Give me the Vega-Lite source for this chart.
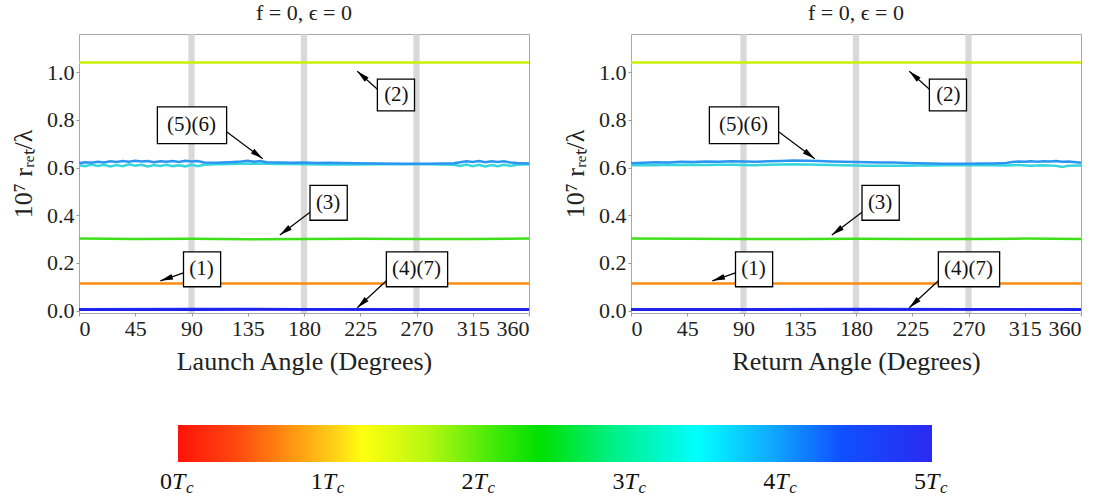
{
  "$schema": "https://vega.github.io/schema/vega-lite/v6.json",
  "background": "white",
  "padding": {"left": 10, "top": 1, "right": 5, "bottom": 0},
  "config": {
    "font": "Liberation Serif",
    "view": {"stroke": "#a8a8a8", "strokeWidth": 1},
    "axis": {"labelFont": "Liberation Serif", "labelFontSize": 22, "labelColor": "#222", "titleFont": "Liberation Serif", "titleFontSize": 26, "titleFontWeight": "normal", "titleColor": "#222", "domain": false, "grid": false, "tickColor": "#999", "tickSize": 3, "labelPadding": 2},
    "title": {"font": "Liberation Serif", "fontSize": 22, "fontWeight": "normal", "color": "#222"}
  },
  "datasets": {
    "bands": [{"a": 87.5, "b": 92.5}, {"a": 177.5, "b": 182.5}, {"a": 267.5, "b": 272.5}],
    "ann": [
      {"lab": "(2)", "tx": 253.9, "ty": 0.904, "x0": 238.7, "x1": 268.4, "y0": 0.8375, "y1": 0.971, "ax": 240.3, "ay": 0.921, "bx": 222.6, "by": 1.004},
      {"lab": "(5)(6)", "tx": 90, "ty": 0.779, "x0": 62.7, "x1": 118.1, "y0": 0.70, "y1": 0.854, "ax": 118.1, "ay": 0.75, "bx": 147, "by": 0.637},
      {"lab": "(3)", "tx": 199.3, "ty": 0.452, "x0": 184.8, "x1": 214.6, "y0": 0.379, "y1": 0.525, "ax": 184.8, "ay": 0.4125, "bx": 160.7, "by": 0.317},
      {"lab": "(1)", "tx": 98, "ty": 0.173, "x0": 83.6, "x1": 113.3, "y0": 0.10, "y1": 0.246, "ax": 83.6, "ay": 0.158, "bx": 65.1, "by": 0.125},
      {"lab": "(4)(7)", "tx": 270, "ty": 0.173, "x0": 245.9, "x1": 294.9, "y0": 0.10, "y1": 0.246, "ax": 245.9, "ay": 0.125, "bx": 222.6, "by": 0.012}
    ],
    "lines": [
      {"panel": "a", "s": "2", "x": 0, "y": 1.040}, {"panel": "a", "s": "2", "x": 90, "y": 1.041}, {"panel": "a", "s": "2", "x": 180, "y": 1.040}, {"panel": "a", "s": "2", "x": 270, "y": 1.040}, {"panel": "a", "s": "2", "x": 360, "y": 1.041},
      {"panel": "a", "s": "3", "x": 0, "y": 0.302}, {"panel": "a", "s": "3", "x": 45, "y": 0.300}, {"panel": "a", "s": "3", "x": 90, "y": 0.301}, {"panel": "a", "s": "3", "x": 135, "y": 0.299}, {"panel": "a", "s": "3", "x": 180, "y": 0.300}, {"panel": "a", "s": "3", "x": 225, "y": 0.301}, {"panel": "a", "s": "3", "x": 270, "y": 0.300}, {"panel": "a", "s": "3", "x": 315, "y": 0.300}, {"panel": "a", "s": "3", "x": 360, "y": 0.302},
      {"panel": "a", "s": "1", "x": 0, "y": 0.114}, {"panel": "a", "s": "1", "x": 90, "y": 0.114}, {"panel": "a", "s": "1", "x": 180, "y": 0.114}, {"panel": "a", "s": "1", "x": 270, "y": 0.114}, {"panel": "a", "s": "1", "x": 360, "y": 0.114},
      {"panel": "a", "s": "4", "x": 0, "y": 0.006}, {"panel": "a", "s": "4", "x": 90, "y": 0.007}, {"panel": "a", "s": "4", "x": 180, "y": 0.006}, {"panel": "a", "s": "4", "x": 270, "y": 0.006}, {"panel": "a", "s": "4", "x": 360, "y": 0.006},
      {"panel": "a", "s": "7", "x": 0, "y": 0.004}, {"panel": "a", "s": "7", "x": 90, "y": 0.004}, {"panel": "a", "s": "7", "x": 180, "y": 0.005}, {"panel": "a", "s": "7", "x": 270, "y": 0.004}, {"panel": "a", "s": "7", "x": 360, "y": 0.004},
      {"panel": "a", "s": "6", "x": 0, "y": 0.610}, {"panel": "a", "s": "6", "x": 5, "y": 0.606}, {"panel": "a", "s": "6", "x": 10, "y": 0.613}, {"panel": "a", "s": "6", "x": 15, "y": 0.607}, {"panel": "a", "s": "6", "x": 20, "y": 0.612}, {"panel": "a", "s": "6", "x": 25, "y": 0.605}, {"panel": "a", "s": "6", "x": 30, "y": 0.611}, {"panel": "a", "s": "6", "x": 35, "y": 0.606}, {"panel": "a", "s": "6", "x": 40, "y": 0.614}, {"panel": "a", "s": "6", "x": 45, "y": 0.608}, {"panel": "a", "s": "6", "x": 50, "y": 0.612}, {"panel": "a", "s": "6", "x": 55, "y": 0.605}, {"panel": "a", "s": "6", "x": 60, "y": 0.611}, {"panel": "a", "s": "6", "x": 65, "y": 0.607}, {"panel": "a", "s": "6", "x": 70, "y": 0.612}, {"panel": "a", "s": "6", "x": 75, "y": 0.606}, {"panel": "a", "s": "6", "x": 80, "y": 0.610}, {"panel": "a", "s": "6", "x": 85, "y": 0.605}, {"panel": "a", "s": "6", "x": 90, "y": 0.612}, {"panel": "a", "s": "6", "x": 95, "y": 0.606}, {"panel": "a", "s": "6", "x": 100, "y": 0.612}, {"panel": "a", "s": "6", "x": 110, "y": 0.614}, {"panel": "a", "s": "6", "x": 120, "y": 0.615}, {"panel": "a", "s": "6", "x": 130, "y": 0.616}, {"panel": "a", "s": "6", "x": 140, "y": 0.616}, {"panel": "a", "s": "6", "x": 150, "y": 0.616}, {"panel": "a", "s": "6", "x": 160, "y": 0.615}, {"panel": "a", "s": "6", "x": 170, "y": 0.615}, {"panel": "a", "s": "6", "x": 180, "y": 0.614}, {"panel": "a", "s": "6", "x": 200, "y": 0.613}, {"panel": "a", "s": "6", "x": 220, "y": 0.613}, {"panel": "a", "s": "6", "x": 240, "y": 0.614}, {"panel": "a", "s": "6", "x": 260, "y": 0.614}, {"panel": "a", "s": "6", "x": 280, "y": 0.614}, {"panel": "a", "s": "6", "x": 300, "y": 0.612}, {"panel": "a", "s": "6", "x": 305, "y": 0.607}, {"panel": "a", "s": "6", "x": 310, "y": 0.613}, {"panel": "a", "s": "6", "x": 315, "y": 0.606}, {"panel": "a", "s": "6", "x": 320, "y": 0.612}, {"panel": "a", "s": "6", "x": 325, "y": 0.605}, {"panel": "a", "s": "6", "x": 330, "y": 0.611}, {"panel": "a", "s": "6", "x": 335, "y": 0.606}, {"panel": "a", "s": "6", "x": 340, "y": 0.612}, {"panel": "a", "s": "6", "x": 345, "y": 0.607}, {"panel": "a", "s": "6", "x": 350, "y": 0.612}, {"panel": "a", "s": "6", "x": 360, "y": 0.614},
      {"panel": "a", "s": "5", "x": 0, "y": 0.618}, {"panel": "a", "s": "5", "x": 5, "y": 0.622}, {"panel": "a", "s": "5", "x": 10, "y": 0.620}, {"panel": "a", "s": "5", "x": 15, "y": 0.624}, {"panel": "a", "s": "5", "x": 20, "y": 0.621}, {"panel": "a", "s": "5", "x": 25, "y": 0.626}, {"panel": "a", "s": "5", "x": 30, "y": 0.623}, {"panel": "a", "s": "5", "x": 35, "y": 0.627}, {"panel": "a", "s": "5", "x": 40, "y": 0.624}, {"panel": "a", "s": "5", "x": 45, "y": 0.628}, {"panel": "a", "s": "5", "x": 50, "y": 0.625}, {"panel": "a", "s": "5", "x": 55, "y": 0.627}, {"panel": "a", "s": "5", "x": 60, "y": 0.622}, {"panel": "a", "s": "5", "x": 65, "y": 0.626}, {"panel": "a", "s": "5", "x": 70, "y": 0.624}, {"panel": "a", "s": "5", "x": 75, "y": 0.627}, {"panel": "a", "s": "5", "x": 80, "y": 0.623}, {"panel": "a", "s": "5", "x": 85, "y": 0.628}, {"panel": "a", "s": "5", "x": 90, "y": 0.625}, {"panel": "a", "s": "5", "x": 95, "y": 0.627}, {"panel": "a", "s": "5", "x": 100, "y": 0.621}, {"panel": "a", "s": "5", "x": 110, "y": 0.620}, {"panel": "a", "s": "5", "x": 120, "y": 0.622}, {"panel": "a", "s": "5", "x": 130, "y": 0.625}, {"panel": "a", "s": "5", "x": 135, "y": 0.628}, {"panel": "a", "s": "5", "x": 140, "y": 0.624}, {"panel": "a", "s": "5", "x": 145, "y": 0.627}, {"panel": "a", "s": "5", "x": 150, "y": 0.622}, {"panel": "a", "s": "5", "x": 160, "y": 0.621}, {"panel": "a", "s": "5", "x": 170, "y": 0.620}, {"panel": "a", "s": "5", "x": 180, "y": 0.621}, {"panel": "a", "s": "5", "x": 190, "y": 0.619}, {"panel": "a", "s": "5", "x": 200, "y": 0.620}, {"panel": "a", "s": "5", "x": 220, "y": 0.618}, {"panel": "a", "s": "5", "x": 240, "y": 0.617}, {"panel": "a", "s": "5", "x": 260, "y": 0.616}, {"panel": "a", "s": "5", "x": 280, "y": 0.616}, {"panel": "a", "s": "5", "x": 300, "y": 0.618}, {"panel": "a", "s": "5", "x": 305, "y": 0.622}, {"panel": "a", "s": "5", "x": 310, "y": 0.626}, {"panel": "a", "s": "5", "x": 315, "y": 0.623}, {"panel": "a", "s": "5", "x": 320, "y": 0.627}, {"panel": "a", "s": "5", "x": 325, "y": 0.622}, {"panel": "a", "s": "5", "x": 330, "y": 0.626}, {"panel": "a", "s": "5", "x": 335, "y": 0.623}, {"panel": "a", "s": "5", "x": 340, "y": 0.626}, {"panel": "a", "s": "5", "x": 345, "y": 0.621}, {"panel": "a", "s": "5", "x": 350, "y": 0.619}, {"panel": "a", "s": "5", "x": 360, "y": 0.617},
      {"panel": "b", "s": "2", "x": 0, "y": 1.040}, {"panel": "b", "s": "2", "x": 90, "y": 1.041}, {"panel": "b", "s": "2", "x": 180, "y": 1.040}, {"panel": "b", "s": "2", "x": 270, "y": 1.040}, {"panel": "b", "s": "2", "x": 360, "y": 1.041},
      {"panel": "b", "s": "3", "x": 0, "y": 0.302}, {"panel": "b", "s": "3", "x": 45, "y": 0.301}, {"panel": "b", "s": "3", "x": 90, "y": 0.300}, {"panel": "b", "s": "3", "x": 135, "y": 0.300}, {"panel": "b", "s": "3", "x": 180, "y": 0.301}, {"panel": "b", "s": "3", "x": 225, "y": 0.300}, {"panel": "b", "s": "3", "x": 270, "y": 0.300}, {"panel": "b", "s": "3", "x": 315, "y": 0.302}, {"panel": "b", "s": "3", "x": 360, "y": 0.300},
      {"panel": "b", "s": "1", "x": 0, "y": 0.114}, {"panel": "b", "s": "1", "x": 90, "y": 0.114}, {"panel": "b", "s": "1", "x": 180, "y": 0.114}, {"panel": "b", "s": "1", "x": 270, "y": 0.114}, {"panel": "b", "s": "1", "x": 360, "y": 0.114},
      {"panel": "b", "s": "4", "x": 0, "y": 0.006}, {"panel": "b", "s": "4", "x": 90, "y": 0.006}, {"panel": "b", "s": "4", "x": 180, "y": 0.007}, {"panel": "b", "s": "4", "x": 270, "y": 0.006}, {"panel": "b", "s": "4", "x": 360, "y": 0.006},
      {"panel": "b", "s": "7", "x": 0, "y": 0.004}, {"panel": "b", "s": "7", "x": 90, "y": 0.004}, {"panel": "b", "s": "7", "x": 180, "y": 0.004}, {"panel": "b", "s": "7", "x": 270, "y": 0.005}, {"panel": "b", "s": "7", "x": 360, "y": 0.004},
      {"panel": "b", "s": "6", "x": 0, "y": 0.610}, {"panel": "b", "s": "6", "x": 10, "y": 0.611}, {"panel": "b", "s": "6", "x": 20, "y": 0.610}, {"panel": "b", "s": "6", "x": 30, "y": 0.612}, {"panel": "b", "s": "6", "x": 40, "y": 0.611}, {"panel": "b", "s": "6", "x": 50, "y": 0.612}, {"panel": "b", "s": "6", "x": 60, "y": 0.611}, {"panel": "b", "s": "6", "x": 70, "y": 0.612}, {"panel": "b", "s": "6", "x": 80, "y": 0.612}, {"panel": "b", "s": "6", "x": 90, "y": 0.611}, {"panel": "b", "s": "6", "x": 100, "y": 0.610}, {"panel": "b", "s": "6", "x": 110, "y": 0.612}, {"panel": "b", "s": "6", "x": 120, "y": 0.613}, {"panel": "b", "s": "6", "x": 130, "y": 0.614}, {"panel": "b", "s": "6", "x": 140, "y": 0.613}, {"panel": "b", "s": "6", "x": 150, "y": 0.612}, {"panel": "b", "s": "6", "x": 160, "y": 0.611}, {"panel": "b", "s": "6", "x": 170, "y": 0.610}, {"panel": "b", "s": "6", "x": 180, "y": 0.609}, {"panel": "b", "s": "6", "x": 190, "y": 0.608}, {"panel": "b", "s": "6", "x": 200, "y": 0.607}, {"panel": "b", "s": "6", "x": 210, "y": 0.607}, {"panel": "b", "s": "6", "x": 220, "y": 0.608}, {"panel": "b", "s": "6", "x": 230, "y": 0.609}, {"panel": "b", "s": "6", "x": 240, "y": 0.609}, {"panel": "b", "s": "6", "x": 250, "y": 0.610}, {"panel": "b", "s": "6", "x": 260, "y": 0.610}, {"panel": "b", "s": "6", "x": 270, "y": 0.610}, {"panel": "b", "s": "6", "x": 280, "y": 0.611}, {"panel": "b", "s": "6", "x": 290, "y": 0.610}, {"panel": "b", "s": "6", "x": 300, "y": 0.609}, {"panel": "b", "s": "6", "x": 310, "y": 0.611}, {"panel": "b", "s": "6", "x": 320, "y": 0.608}, {"panel": "b", "s": "6", "x": 330, "y": 0.610}, {"panel": "b", "s": "6", "x": 340, "y": 0.607}, {"panel": "b", "s": "6", "x": 345, "y": 0.602}, {"panel": "b", "s": "6", "x": 350, "y": 0.608}, {"panel": "b", "s": "6", "x": 360, "y": 0.609},
      {"panel": "b", "s": "5", "x": 0, "y": 0.618}, {"panel": "b", "s": "5", "x": 10, "y": 0.620}, {"panel": "b", "s": "5", "x": 20, "y": 0.622}, {"panel": "b", "s": "5", "x": 30, "y": 0.621}, {"panel": "b", "s": "5", "x": 40, "y": 0.624}, {"panel": "b", "s": "5", "x": 50, "y": 0.623}, {"panel": "b", "s": "5", "x": 60, "y": 0.625}, {"panel": "b", "s": "5", "x": 70, "y": 0.624}, {"panel": "b", "s": "5", "x": 80, "y": 0.626}, {"panel": "b", "s": "5", "x": 90, "y": 0.625}, {"panel": "b", "s": "5", "x": 100, "y": 0.624}, {"panel": "b", "s": "5", "x": 110, "y": 0.626}, {"panel": "b", "s": "5", "x": 120, "y": 0.627}, {"panel": "b", "s": "5", "x": 130, "y": 0.629}, {"panel": "b", "s": "5", "x": 140, "y": 0.628}, {"panel": "b", "s": "5", "x": 150, "y": 0.627}, {"panel": "b", "s": "5", "x": 160, "y": 0.625}, {"panel": "b", "s": "5", "x": 170, "y": 0.624}, {"panel": "b", "s": "5", "x": 180, "y": 0.623}, {"panel": "b", "s": "5", "x": 190, "y": 0.622}, {"panel": "b", "s": "5", "x": 200, "y": 0.621}, {"panel": "b", "s": "5", "x": 210, "y": 0.621}, {"panel": "b", "s": "5", "x": 220, "y": 0.619}, {"panel": "b", "s": "5", "x": 230, "y": 0.618}, {"panel": "b", "s": "5", "x": 240, "y": 0.617}, {"panel": "b", "s": "5", "x": 250, "y": 0.616}, {"panel": "b", "s": "5", "x": 260, "y": 0.616}, {"panel": "b", "s": "5", "x": 270, "y": 0.616}, {"panel": "b", "s": "5", "x": 280, "y": 0.617}, {"panel": "b", "s": "5", "x": 290, "y": 0.617}, {"panel": "b", "s": "5", "x": 300, "y": 0.619}, {"panel": "b", "s": "5", "x": 305, "y": 0.623}, {"panel": "b", "s": "5", "x": 310, "y": 0.625}, {"panel": "b", "s": "5", "x": 315, "y": 0.624}, {"panel": "b", "s": "5", "x": 320, "y": 0.626}, {"panel": "b", "s": "5", "x": 325, "y": 0.624}, {"panel": "b", "s": "5", "x": 330, "y": 0.626}, {"panel": "b", "s": "5", "x": 335, "y": 0.625}, {"panel": "b", "s": "5", "x": 340, "y": 0.627}, {"panel": "b", "s": "5", "x": 345, "y": 0.624}, {"panel": "b", "s": "5", "x": 350, "y": 0.625}, {"panel": "b", "s": "5", "x": 360, "y": 0.620}
    ],
    "cbar": [{"t0": 0, "t1": 5}],
    "cbl": [{"t": 0, "n": "0"}, {"t": 1, "n": "1"}, {"t": 2, "n": "2"}, {"t": 3, "n": "3"}, {"t": 4, "n": "4"}, {"t": 5, "n": "5"}]
  },
  "spacing": 50,
  "vconcat": [
    {
      "spacing": 102,
      "bounds": "flush",
      "hconcat": [
        {
          "width": 450, "height": 279,
          "title": {"text": "f = 0, ϵ = 0", "offset": 9},
          "layer": [
            {"data": {"name": "bands"}, "mark": {"type": "rect", "color": "#cccccc", "opacity": 0.75},
             "encoding": {"x": {"field": "a", "type": "quantitative", "title": "Launch Angle (Degrees)", "scale": {"domain": [0, 360], "nice": false, "zero": false}, "axis": {"values": [0, 45, 90, 135, 180, 225, 270, 315, 360], "titlePadding": 9}}, "x2": {"field": "b"}}},
            {"data": {"name": "lines"}, "transform": [{"filter": "datum.panel === 'a'"}], "mark": {"type": "line", "strokeWidth": 2.5},
             "encoding": {"x": {"field": "x", "type": "quantitative", "title": "Launch Angle (Degrees)"}, "y": {"field": "y", "type": "quantitative", "title": "10⁷ rᵣₑₜ/λ", "scale": {"domain": [-0.01, 1.16], "nice": false, "zero": false}, "axis": {"values": [0, 0.2, 0.4, 0.6, 0.8, 1.0], "format": ".1f", "titlePadding": 10}},
               "color": {"field": "s", "type": "nominal", "legend": null, "scale": {"domain": ["1", "2", "3", "4", "5", "6", "7"], "range": ["#ff8a10", "#ccf000", "#3ee01a", "#1838ff", "#2a96f2", "#36d6dc", "#2020e8"]}},
               "order": {"field": "x"}}},
            {"data": {"name": "ann"}, "mark": {"type": "rule", "color": "black", "strokeWidth": 1.2},
             "encoding": {"x": {"field": "ax", "type": "quantitative", "title": "Launch Angle (Degrees)"}, "y": {"field": "ay", "type": "quantitative", "title": "10⁷ rᵣₑₜ/λ"}, "x2": {"field": "bx"}, "y2": {"field": "by"}}},
            {"data": {"name": "ann"}, "transform": [{"calculate": "atan2((datum.bx-datum.ax)*1.25, (datum.by-datum.ay)*238.5)*180/PI", "as": "ang"}],
             "mark": {"type": "point", "shape": "M0,0L-0.45,2L0.45,2Z", "filled": true, "color": "black", "size": 160, "opacity": 1},
             "encoding": {"x": {"field": "bx", "type": "quantitative", "title": "Launch Angle (Degrees)"}, "y": {"field": "by", "type": "quantitative", "title": "10⁷ rᵣₑₜ/λ"}, "angle": {"field": "ang", "type": "quantitative", "scale": null}}},
            {"data": {"name": "ann"}, "mark": {"type": "rect", "fill": "white", "stroke": "black", "strokeWidth": 1.3},
             "encoding": {"x": {"field": "x0", "type": "quantitative", "title": "Launch Angle (Degrees)"}, "x2": {"field": "x1"}, "y": {"field": "y0", "type": "quantitative", "title": "10⁷ rᵣₑₜ/λ"}, "y2": {"field": "y1"}}},
            {"data": {"name": "ann"}, "mark": {"type": "text", "fontSize": 21, "color": "#111", "baseline": "middle", "align": "center"},
             "encoding": {"x": {"field": "tx", "type": "quantitative", "title": "Launch Angle (Degrees)"}, "y": {"field": "ty", "type": "quantitative", "title": "10⁷ rᵣₑₜ/λ"}, "text": {"field": "lab"}}},
            {"mark": {"type": "text", "text": "(a)", "fontSize": 22, "color": "#111", "align": "right", "baseline": "top", "dx": -3, "dy": 2},
             "encoding": {"x": {"datum": 360, "type": "quantitative"}, "y": {"datum": 1.16, "type": "quantitative"}}}
          ]
        },
        {
          "width": 450, "height": 279,
          "title": {"text": "f = 0, ϵ = 0", "offset": 9},
          "layer": [
            {"data": {"name": "bands"}, "mark": {"type": "rect", "color": "#cccccc", "opacity": 0.75},
             "encoding": {"x": {"field": "a", "type": "quantitative", "title": "Return Angle (Degrees)", "scale": {"domain": [0, 360], "nice": false, "zero": false}, "axis": {"values": [0, 45, 90, 135, 180, 225, 270, 315, 360], "titlePadding": 9}}, "x2": {"field": "b"}}},
            {"data": {"name": "lines"}, "transform": [{"filter": "datum.panel === 'b'"}], "mark": {"type": "line", "strokeWidth": 2.5},
             "encoding": {"x": {"field": "x", "type": "quantitative", "title": "Return Angle (Degrees)"}, "y": {"field": "y", "type": "quantitative", "title": "10⁷ rᵣₑₜ/λ", "scale": {"domain": [-0.01, 1.16], "nice": false, "zero": false}, "axis": {"values": [0, 0.2, 0.4, 0.6, 0.8, 1.0], "format": ".1f", "titlePadding": 10}},
               "color": {"field": "s", "type": "nominal", "legend": null, "scale": {"domain": ["1", "2", "3", "4", "5", "6", "7"], "range": ["#ff8a10", "#ccf000", "#3ee01a", "#1838ff", "#2a96f2", "#36d6dc", "#2020e8"]}},
               "order": {"field": "x"}}},
            {"data": {"name": "ann"}, "mark": {"type": "rule", "color": "black", "strokeWidth": 1.2},
             "encoding": {"x": {"field": "ax", "type": "quantitative", "title": "Return Angle (Degrees)"}, "y": {"field": "ay", "type": "quantitative", "title": "10⁷ rᵣₑₜ/λ"}, "x2": {"field": "bx"}, "y2": {"field": "by"}}},
            {"data": {"name": "ann"}, "transform": [{"calculate": "atan2((datum.bx-datum.ax)*1.25, (datum.by-datum.ay)*238.5)*180/PI", "as": "ang"}],
             "mark": {"type": "point", "shape": "M0,0L-0.45,2L0.45,2Z", "filled": true, "color": "black", "size": 160, "opacity": 1},
             "encoding": {"x": {"field": "bx", "type": "quantitative", "title": "Return Angle (Degrees)"}, "y": {"field": "by", "type": "quantitative", "title": "10⁷ rᵣₑₜ/λ"}, "angle": {"field": "ang", "type": "quantitative", "scale": null}}},
            {"data": {"name": "ann"}, "mark": {"type": "rect", "fill": "white", "stroke": "black", "strokeWidth": 1.3},
             "encoding": {"x": {"field": "x0", "type": "quantitative", "title": "Return Angle (Degrees)"}, "x2": {"field": "x1"}, "y": {"field": "y0", "type": "quantitative", "title": "10⁷ rᵣₑₜ/λ"}, "y2": {"field": "y1"}}},
            {"data": {"name": "ann"}, "mark": {"type": "text", "fontSize": 21, "color": "#111", "baseline": "middle", "align": "center"},
             "encoding": {"x": {"field": "tx", "type": "quantitative", "title": "Return Angle (Degrees)"}, "y": {"field": "ty", "type": "quantitative", "title": "10⁷ rᵣₑₜ/λ"}, "text": {"field": "lab"}}},
            {"mark": {"type": "text", "text": "(b)", "fontSize": 22, "color": "#111", "align": "right", "baseline": "top", "dx": -3, "dy": 2},
             "encoding": {"x": {"datum": 360, "type": "quantitative"}, "y": {"datum": 1.16, "type": "quantitative"}}}
          ]
        }
      ]
    },
    {
      "width": 1002, "height": 37,
      "view": {"stroke": null},
      "layer": [
        {"data": {"name": "cbar"},
         "mark": {"type": "rect", "fill": {"gradient": "linear", "x1": 0, "y1": 0, "x2": 1, "y2": 0, "stops": [
           {"offset": 0, "color": "#ff1208"}, {"offset": 0.08, "color": "#ff4a10"}, {"offset": 0.14, "color": "#ff8a10"}, {"offset": 0.2, "color": "#ffc818"}, {"offset": 0.245, "color": "#ffff10"}, {"offset": 0.33, "color": "#b8f810"}, {"offset": 0.42, "color": "#40ea08"}, {"offset": 0.48, "color": "#00e000"}, {"offset": 0.58, "color": "#00f08a"}, {"offset": 0.69, "color": "#00ffff"}, {"offset": 0.78, "color": "#10b0ff"}, {"offset": 0.88, "color": "#1050ff"}, {"offset": 1, "color": "#2a2af0"}]}, "stroke": null},
         "encoding": {"x": {"field": "t0", "type": "quantitative", "axis": null, "scale": {"domain": [-0.6565, 5.988], "nice": false, "zero": false}}, "x2": {"field": "t1"}}},
        {"data": {"name": "cbl"}, "mark": {"type": "text", "fontSize": 24, "color": "#111", "align": "center", "baseline": "middle", "dx": -12, "dy": 38},
         "encoding": {"x": {"field": "t", "type": "quantitative", "axis": null}, "text": {"field": "n"}}},
        {"data": {"name": "cbl"}, "mark": {"type": "text", "text": "T", "fontStyle": "italic", "fontSize": 24, "color": "#111", "align": "left", "baseline": "middle", "dx": -6, "dy": 38},
         "encoding": {"x": {"field": "t", "type": "quantitative", "axis": null}}},
        {"data": {"name": "cbl"}, "mark": {"type": "text", "text": "c", "fontStyle": "italic", "fontSize": 17, "color": "#111", "align": "left", "baseline": "middle", "dx": 8, "dy": 44},
         "encoding": {"x": {"field": "t", "type": "quantitative", "axis": null}}}
      ]
    }
  ]
}
